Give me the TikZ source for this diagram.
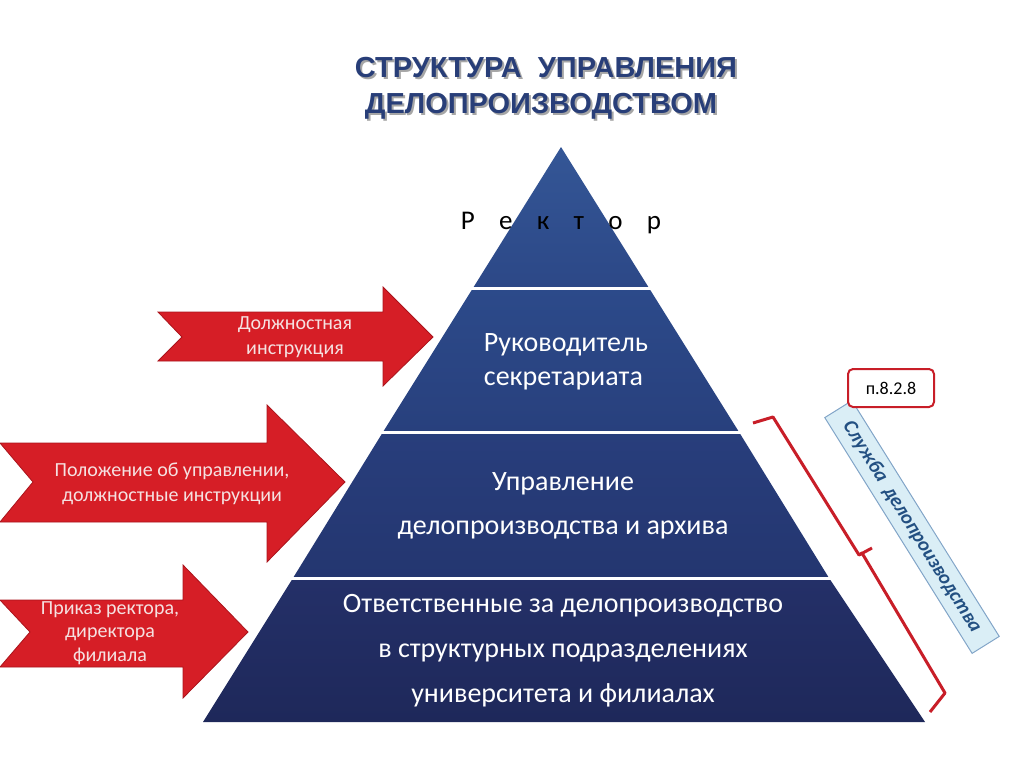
\documentclass[tikz,border=0pt]{standalone}
\usepackage{fontspec}
\setmainfont{Carlito}
\newfontfamily\titlefont{Liberation Sans}
\begin{document}
\begin{tikzpicture}[x=1pt,y=-1pt,
  arr/.style={fill={rgb,255:red,214;green,30;blue,38},draw={rgb,255:red,170;green,20;blue,28},line width=0.8pt},
  sep/.style={draw=white,line width=3pt},
  lay/.style={text=white,font=\fontsize{28}{34}\selectfont,align=center},
  arrtxt/.style={text={rgb,255:red,245;green,225;blue,225},font=\fontsize{20}{25}\selectfont,align=center}]
\useasboundingbox (0,0) rectangle (1024,768);
\definecolor{ttl}{RGB}{40,62,120}
\definecolor{brred}{RGB}{200,30,40}
% title
\node[text=black!35,font=\titlefont\bfseries\fontsize{29}{36}\selectfont] at (548,70) {СТРУКТУРА\ \ УПРАВЛЕНИЯ};
\node[text=ttl,font=\titlefont\bfseries\fontsize{29}{36}\selectfont] (t1) at (546,68) {СТРУКТУРА\ \ УПРАВЛЕНИЯ};
\node[text=black!35,font=\titlefont\bfseries\fontsize{29}{36}\selectfont] at (543,108) {ДЕЛОПРОИЗВОДСТВОМ};
\node[text=ttl,font=\titlefont\bfseries\fontsize{29}{36}\selectfont] (t2) at (541,106) {ДЕЛОПРОИЗВОДСТВОМ};
% pyramid layers
\shade[top color={rgb,255:red,52;green,86;blue,150},bottom color={rgb,255:red,44;green,72;blue,135}] (561,147)--(649,288)--(473,288)--cycle;
\shade[top color={rgb,255:red,44;green,74;blue,138},bottom color={rgb,255:red,40;green,64;blue,125}] (473,288)--(649,288)--(739,432)--(383,432)--cycle;
\shade[top color={rgb,255:red,40;green,62;blue,124},bottom color={rgb,255:red,36;green,54;blue,112}] (383,432)--(739,432)--(829,578)--(293,578)--cycle;
\shade[top color={rgb,255:red,36;green,48;blue,104},bottom color={rgb,255:red,30;green,40;blue,90}] (293,578)--(829,578)--(925,722)--(203,722)--cycle;
\draw[sep] (471,288)--(651,288);
\draw[sep] (381,432)--(741,432);
\draw[sep] (291,578)--(831,578);
% texts
\node[font=\fontsize{27}{30}\selectfont] (rek) at (561,223) {Р\hspace{0.9em}е\hspace{0.9em}к\hspace{0.9em}т\hspace{0.9em}о\hspace{0.9em}р};
\node[lay,align=left] (l2) at (566,362) {Руководитель\\секретариата};
\node[lay,font=\fontsize{28}{44}\selectfont] (l3) at (563,506) {Управление\\делопроизводства и архива};
\node[lay,font=\fontsize{28}{45}\selectfont] (l4) at (563,651) {Ответственные за делопроизводство\\в структурных подразделениях\\университета и филиалах};
% arrows
\draw[arr] (158,312)--(383,312)--(383,287)--(433,337)--(383,386)--(383,361)--(158,361)--(182,337)--cycle;
\node[arrtxt] (a1) at (295,337) {Должностная\\инструкция};
\draw[arr] (0,443)--(267,443)--(267,405)--(345,482)--(267,562)--(267,522)--(0,522)--(33,482)--cycle;
\node[arrtxt] (a2) at (172,484) {Положение об управлении,\\должностные инструкции};
\draw[arr] (0,600)--(183,600)--(183,565)--(248,632)--(183,698)--(183,667)--(0,667)--(30,632)--cycle;
\node[arrtxt,font=\fontsize{20}{23.5}\selectfont] (a3) at (110,633) {Приказ ректора,\\директора\\филиала};
% brace
\draw[brred,line width=3pt,line join=round] (753,423)--(773,417)--(859,555)--(872,548) (859,555)--(862,553)--(945,693)--(930,712);
% service box
\node[draw={rgb,255:red,130;green,165;blue,200},fill={rgb,255:red,218;green,238;blue,246},line width=1pt,rotate=-58,minimum width=278,minimum height=32,text={rgb,255:red,35;green,80;blue,130},font=\bfseries\itshape\fontsize{20}{22}\selectfont] (sl) at (912,527) {Служба\ \ делопроизводства};
\node[draw=brred,fill=white,line width=2pt,rounded corners=5pt,minimum width=86,minimum height=38,font=\fontsize{18}{20}\selectfont] (pp) at (891,388) {п.8.2.8};
\end{tikzpicture}
\end{document}
